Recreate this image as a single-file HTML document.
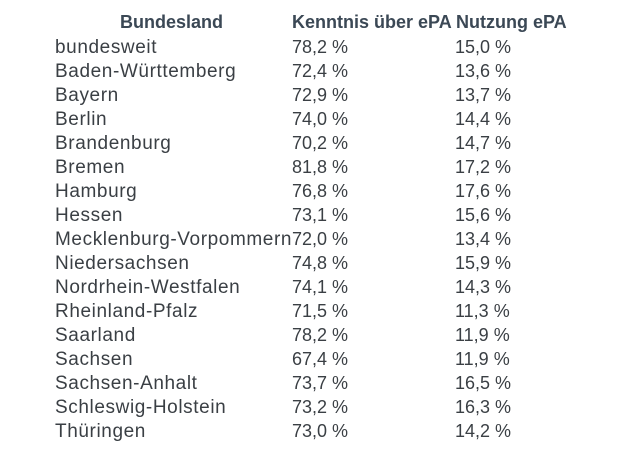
<!DOCTYPE html>
<html><head><meta charset="utf-8"><style>
body{margin:0;width:630px;height:469px;background:#fff;position:relative;overflow:hidden;font-family:"Liberation Sans",sans-serif;}
.c{position:absolute;font-size:19px;letter-spacing:0.6px;line-height:24px;color:#3a3f44;white-space:nowrap;}
.n{font-size:18px;letter-spacing:0;margin-top:-1px;}
.h{font-weight:bold;color:#3b4855;font-size:18px;letter-spacing:0;}
</style></head><body>
<div id="t"></div>
<script>
const states=["bundesweit","Baden-Württemberg","Bayern","Berlin","Brandenburg","Bremen","Hamburg","Hessen","Mecklenburg-Vorpommern","Niedersachsen","Nordrhein-Westfalen","Rheinland-Pfalz","Saarland","Sachsen","Sachsen-Anhalt","Schleswig-Holstein","Thüringen"];
const kenntnis=["78,2","72,4","72,9","74,0","70,2","81,8","76,8","73,1","72,0","74,8","74,1","71,5","78,2","67,4","73,7","73,2","73,0"];
const nutzung=["15,0","13,6","13,7","14,4","14,7","17,2","17,6","15,6","13,4","15,9","14,3","11,3","11,9","11,9","16,5","16,3","14,2"];
const t=document.getElementById('t');
function cell(txt,x,y,cls,name){
  const d=document.createElement('div');
  d.className='c'+(cls?' '+cls:'');
  d.style.left=x+'px';d.style.top=y+'px';d.textContent=txt;
  
  
  t.appendChild(d);
}
cell('Bundesland',120,10,'h','header-bundesland');
cell('Kenntnis über ePA',292,10,'h','header-kenntnis');
cell('Nutzung ePA',456,10,'h','header-nutzung');
states.forEach((s,i)=>{
  const y=36+i*24;
  cell(s,55,y,'','state-name');
  cell(kenntnis[i]+' %',292,y,'n','kenntnis-value');
  cell(nutzung[i]+' %',455,y,'n','nutzung-value');
});
</script>
</body></html>
